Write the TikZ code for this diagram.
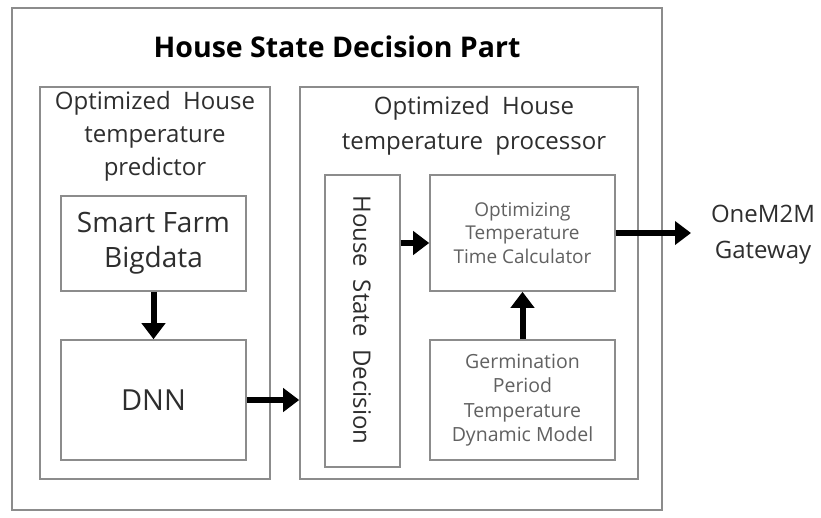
\documentclass[tikz,border=0pt]{standalone}
\usepackage{fontspec}
\setmainfont{Open Sans}
\usetikzlibrary{arrows.meta}
\begin{document}
\begin{tikzpicture}[x=1pt,y=-1pt,
  box/.style={draw=black!45,line width=1.6pt,rectangle,inner sep=0pt},
  lbl/.style={align=center,text=black!82,inner sep=0pt},
  small/.style={align=center,text=black!62,font=\fontsize{19}{23.5}\selectfont,inner sep=0pt},
  arr/.style={line width=6pt,-{Triangle[length=16pt,width=23pt]},black}]
\useasboundingbox[fill=white] (0,0) rectangle (821,517);
% containers
\node[box,minimum width=650pt,minimum height=502pt] (outer) at (337,259) {};
\node[box,minimum width=230pt,minimum height=392pt] (lbox) at (155,283) {};
\node[box,minimum width=338pt,minimum height=392pt] (rbox) at (469,283) {};
\node[lbl,font=\bfseries\fontsize{28.5}{30}\selectfont,text=black] (title) at (337,47) {House State Decision Part};
\node[lbl,font=\fontsize{24}{33}\selectfont] (ltitle) at (155,136) {Optimized\ \ House\\temperature\\predictor};
\node[lbl,font=\fontsize{24}{35}\selectfont] (rtitle) at (474,126) {Optimized\ \ House\\temperature\ \ processor};
% inner blocks
\node[box,minimum width=185pt,minimum height=95pt,lbl,font=\fontsize{28}{35}\selectfont] (smart) at (153.5,243.5) {Smart\ Farm\\Bigdata};
\node[box,minimum width=185pt,minimum height=120pt,lbl,font=\fontsize{29}{30}\selectfont] (dnn) at (153.5,400) {DNN};
\node[box,minimum width=75pt,minimum height=292pt] (hsd) at (362.5,321) {};
\node[lbl,rotate=-90,font=\fontsize{24}{24}\selectfont] (hsdtext) at (362,320) {House\ \ State\ \ Decision};
\node[box,minimum width=185pt,minimum height=116pt,small] (opt) at (522.5,233) {Optimizing\\Temperature\\Time Calculator};
\node[box,minimum width=185pt,minimum height=120pt,small,font=\fontsize{19.5}{24.5}\selectfont] (germ) at (522.5,400) {Germination\\Period\\Temperature\\Dynamic Model};
% gateway
\node[lbl,font=\fontsize{24}{36}\selectfont] (gw) at (763,235) {OneM2M\\Gateway};
\coordinate (gwin) at (691,233);
\coordinate (hy) at (0,243);
% connectors
\draw[arr] (smart.south) -- (dnn.north);
\draw[arr] (dnn.east) -- (dnn.east -| rbox.west);
\draw[arr] (hsd.east |- hy) -- (opt.west |- hy);
\draw[arr] (germ.north) -- (opt.south);
\draw[arr] (opt.east) -- (gwin);
\end{tikzpicture}
\end{document}
